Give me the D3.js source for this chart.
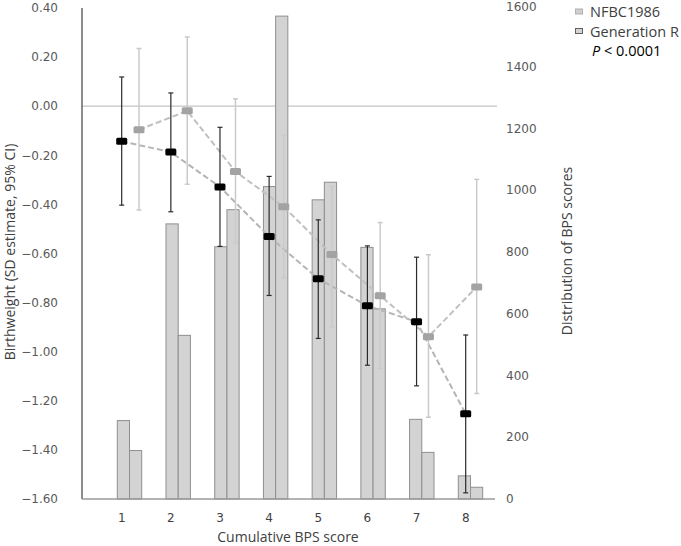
<!DOCTYPE html>
<html><head><meta charset="utf-8">
<script src="https://cdn.jsdelivr.net/npm/d3@7"></script>
<style>body{margin:0;background:#fff;}svg{display:block;}</style>
</head><body>
<svg id="c" width="681" height="546"></svg>
<script>
const categories = [1,2,3,4,5,6,7,8];
const barsNFBC = [254, 891, 817, 1012, 969, 815, 258, 75];
const barsGenR = [157, 530, 937, 1564, 1026, 616, 151, 38];
const blackMean = [-0.143, -0.187, -0.329, -0.531, -0.703, -0.813, -0.878, -1.253];
const blackUpper = [0.119, 0.054, -0.086, -0.286, -0.463, -0.569, -0.615, -0.932];
const blackLower = [-0.403, -0.430, -0.571, -0.771, -0.946, -1.055, -1.139, -1.575];
const grayMean = [-0.096, -0.019, -0.266, -0.410, -0.604, -0.772, -0.939, -0.736];
const grayUpper = [0.235, 0.282, 0.030, -0.117, -0.326, -0.474, -0.605, -0.298];
const grayLower = [-0.423, -0.318, -0.559, -0.699, -0.899, -1.068, -1.267, -1.170];
const leftTicks = [0.4,0.2,0,-0.2,-0.4,-0.6,-0.8,-1.0,-1.2,-1.4,-1.6];
const rightTicks = [0,200,400,600,800,1000,1200,1400,1600];

const svg = d3.select("#c");
const x0 = 82, x1 = 495, yB = 499;
const yL = d3.scaleLinear().domain([-1.6,0.4]).range([yB,8]);
const yR = d3.scaleLinear().domain([0,1600]).range([yB,5]);
const xBlack = d3.scaleLinear().domain([1,8]).range([121.7,465.7]);
const xGray = d3.scaleLinear().domain([1,8]).range([139,476.7]);
const xBar = d3.scaleLinear().domain([1,8]).range([117.3,458.3]);
const bw = 12.2;

// zero line
svg.append("line").attr("x1",x0).attr("x2",497).attr("y1",yL(0)).attr("y2",yL(0))
  .attr("stroke","#c4c4c4").attr("stroke-width",1.2);

// bars
const gb = svg.append("g");
categories.forEach((c,i)=>{
  gb.append("rect").attr("x",xBar(c)).attr("y",yR(barsNFBC[i])).attr("width",bw)
    .attr("height",yR(0)-yR(barsNFBC[i])).attr("fill","#d3d3d3").attr("stroke","#8f8f8f").attr("stroke-width",1);
  gb.append("rect").attr("x",xBar(c)+bw).attr("y",yR(barsGenR[i])).attr("width",bw)
    .attr("height",yR(0)-yR(barsGenR[i])).attr("fill","#d3d3d3").attr("stroke","#8f8f8f").attr("stroke-width",1);
});

// axes lines
svg.append("line").attr("x1",x0).attr("x2",x0).attr("y1",8).attr("y2",yB).attr("stroke","#404040").attr("stroke-width",1.2);
svg.append("line").attr("x1",x0).attr("x2",x1).attr("y1",yB).attr("y2",yB).attr("stroke","#9a9a9a").attr("stroke-width",1.5);

// dashed lines
const lineB = d3.line().x((d,i)=>xBlack(categories[i])).y(d=>yL(d));
const lineG = d3.line().x((d,i)=>xGray(categories[i])).y(d=>yL(d));
svg.append("path").attr("d",lineB(blackMean)).attr("fill","none").attr("stroke","#b5b5b5")
  .attr("stroke-width",2).attr("stroke-dasharray","6,3");
svg.append("path").attr("d",lineG(grayMean)).attr("fill","none").attr("stroke","#c0c0c0")
  .attr("stroke-width",2).attr("stroke-dasharray","6,3");

// error bars
function errBars(xs, lo, hi, col, w){
  const g = svg.append("g").attr("stroke",col).attr("stroke-width",w);
  categories.forEach((c,i)=>{
    const x = xs(c);
    g.append("line").attr("x1",x).attr("x2",x).attr("y1",yL(hi[i])).attr("y2",yL(lo[i]));
    g.append("line").attr("x1",x-2.5).attr("x2",x+2.5).attr("y1",yL(hi[i])).attr("y2",yL(hi[i]));
    g.append("line").attr("x1",x-2.5).attr("x2",x+2.5).attr("y1",yL(lo[i])).attr("y2",yL(lo[i]));
  });
}
errBars(xGray, grayLower, grayUpper, "#cacaca", 1.5);
errBars(xBlack, blackLower, blackUpper, "#2a2a2a", 1.2);

// markers
categories.forEach((c,i)=>{
  svg.append("rect").attr("x",xGray(c)-5.5).attr("y",yL(grayMean[i])-3.5).attr("width",11).attr("height",7)
    .attr("rx",1.5).attr("fill","#a3a3a3");
  svg.append("rect").attr("x",xBlack(c)-5.5).attr("y",yL(blackMean[i])-3.5).attr("width",11).attr("height",7)
    .attr("rx",1.5).attr("fill","#000");
});

// tick labels
const tickFont = "DejaVu Sans, sans-serif";
svg.append("g").selectAll("text").data(leftTicks).join("text")
  .attr("x",58).attr("y",d=>yL(d)).attr("dy","0.35em").attr("text-anchor","end")
  .attr("font-family",tickFont).attr("font-size",12).attr("fill","#595959")
  .text(d=>d3.format(".2f")(d));
svg.append("g").selectAll("text").data(rightTicks).join("text")
  .attr("x",506).attr("y",d=>Math.max(yR(d),7)).attr("dy","0.35em").attr("text-anchor","start")
  .attr("font-family",tickFont).attr("font-size",12).attr("fill","#595959")
  .text(d=>d);
svg.append("g").selectAll("text").data(categories).join("text")
  .attr("x",d=>xBlack(d)).attr("y",518).attr("dy","0.35em").attr("text-anchor","middle")
  .attr("font-family",tickFont).attr("font-size",12).attr("fill","#404040")
  .text(d=>d);

// titles
const tf = "Open Sans, sans-serif";
svg.append("text").attr("transform","translate(15,252) rotate(-90)").attr("text-anchor","middle")
  .attr("font-family",tf).attr("font-size",14).attr("fill","#404040").text("Birthweight (SD estimate, 95% CI)");
svg.append("text").attr("transform","translate(572,251) rotate(-90)").attr("text-anchor","middle")
  .attr("font-family",tf).attr("font-size",14).attr("fill","#404040").text("Distribution of BPS scores");
svg.append("text").attr("x",288).attr("y",542).attr("text-anchor","middle")
  .attr("font-family",tf).attr("font-size",14).attr("fill","#404040").text("Cumulative BPS score");

// legend
const legend = [{name:"NFBC1986", fill:"#d0d0d0", stroke:"#b0b0b0"},{name:"Generation R", fill:"#d3d3d3", stroke:"#606060"}];
legend.forEach((l,i)=>{
  const y = 12 + i*19.5;
  svg.append("rect").attr("x",575.5).attr("y",y-3).attr("width",7).attr("height",5)
    .attr("fill",l.fill).attr("stroke",l.stroke).attr("stroke-width",1);
  svg.append("text").attr("x",590).attr("y",y).attr("dy","0.35em")
    .attr("font-family",tf).attr("font-size",14.5).attr("fill","#404040").text(l.name);
});
const pt = svg.append("text").attr("x",592).attr("y",51).attr("dy","0.35em")
  .attr("font-family",tf).attr("font-size",14.5).attr("fill","#000");
pt.append("tspan").attr("font-style","italic").text("P");
pt.append("tspan").text(" < 0.0001");
</script>
</body></html>
